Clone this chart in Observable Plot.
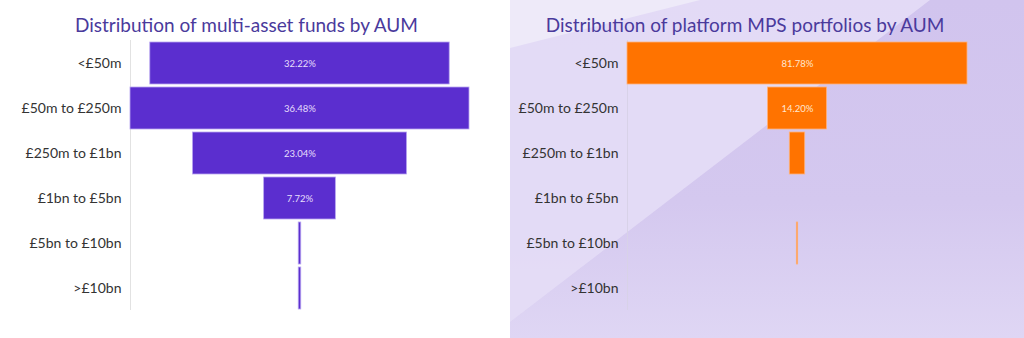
<!DOCTYPE html>
<html>
<head>
<meta charset="utf-8">
<script src="https://cdn.jsdelivr.net/npm/d3@7"></script>
<script src="https://cdn.jsdelivr.net/npm/@observablehq/plot@0.6"></script>
<style>
  body { margin: 0; }
  #root { position: relative; width: 1024px; height: 338px; overflow: hidden; background: #fff; font-family: Lato, "Open Sans", sans-serif; }
  .panel { position: absolute; top: 0; height: 338px; }
  .title { position: absolute; top: 13px; font-size: 19px; line-height: 24px; color: #4a3a9c; text-align: center; white-space: nowrap; }
  .chart { position: absolute; top: 36px; left: 0; }
  .bg { position: absolute; left: 0; top: 0; width: 514px; height: 338px; }
</style>
</head>
<body>
<div id="root">
  <div class="panel" id="left" style="left:0;width:510px;">
    <div class="title" style="left:0;width:493px;">Distribution of multi-asset funds by AUM</div>
    <div class="chart" id="leftChart"></div>
  </div>
  <div class="panel" id="right" style="left:510px;width:514px;">
    <div class="bg" style="background:linear-gradient(to bottom,#d1c4ee 0%,#d4c8ef 60%,#dfd6f4 100%);"></div>
    <div class="bg" style="background:#e4ddf6;opacity:0.9;clip-path:polygon(0 0,420px 0,0 322px);"></div>
    <div class="bg" style="background:#eeeaf9;clip-path:polygon(0 0,190px 0,0 48px);"></div>
    <div class="title" style="left:0;width:470px;">Distribution of platform MPS portfolios by AUM</div>
    <div class="chart" id="rightChart"></div>
  </div>
</div>
<script>
const categories = ["<£50m", "£50m to £250m", "£250m to £1bn", "£1bn to £5bn", "£5bn to £10bn", ">£10bn"];
const multiAssetShare = [32.22, 36.48, 23.04, 7.72, 0.27, 0.27];
const mpsShare = [81.78, 14.20, 3.70, 0, 0.32, 0];

function funnel(values, opts) {
  const data = categories.map((c, i) => ({c, v: values[i]}));
  const max = d3.max(values);
  return Plot.plot({
    width: opts.width,
    height: 302,
    marginLeft: opts.ml,
    marginRight: opts.mr,
    marginTop: 4,
    marginBottom: 28,
    style: {background: "transparent", fontFamily: "Lato, 'Open Sans', sans-serif"},
    x: {domain: [-max / 2, max / 2], axis: null},
    y: {domain: categories, paddingInner: 0.067, paddingOuter: 0.03, axis: null},
    marks: [
      Plot.ruleX([-max / 2], {stroke: opts.ruleColor, strokeWidth: 1}),
      Plot.barX(data.filter(d => d.v > 0), {
        y: "c", x1: d => -d.v / 2, x2: d => d.v / 2,
        fill: opts.color, stroke: opts.edge, strokeWidth: 0.8
      }),
      Plot.text(data.filter(d => d.v / max >= 0.1), {
        y: "c", x: d => 0, text: d => d.v.toFixed(2) + "%",
        fill: opts.textColor, fontSize: 9.5
      }),
      Plot.axisY({tickSize: 0, tickPadding: 9, fontSize: 14, fill: "#333", label: null})
    ]
  });
}

document.getElementById("leftChart").append(funnel(multiAssetShare, {
  width: 510, ml: 130, mr: 41, color: "#5b2ecf", edge: "#b8a6f0", textColor: "#e6defc", ruleColor: "#e2e2e2"
}));
document.getElementById("rightChart").append(funnel(mpsShare, {
  width: 514, ml: 117, mr: 57, color: "#ff7300", edge: "#ffb27a", textColor: "#ffe6d0", ruleColor: "#d8d2e8"
}));
</script>
</body>
</html>
